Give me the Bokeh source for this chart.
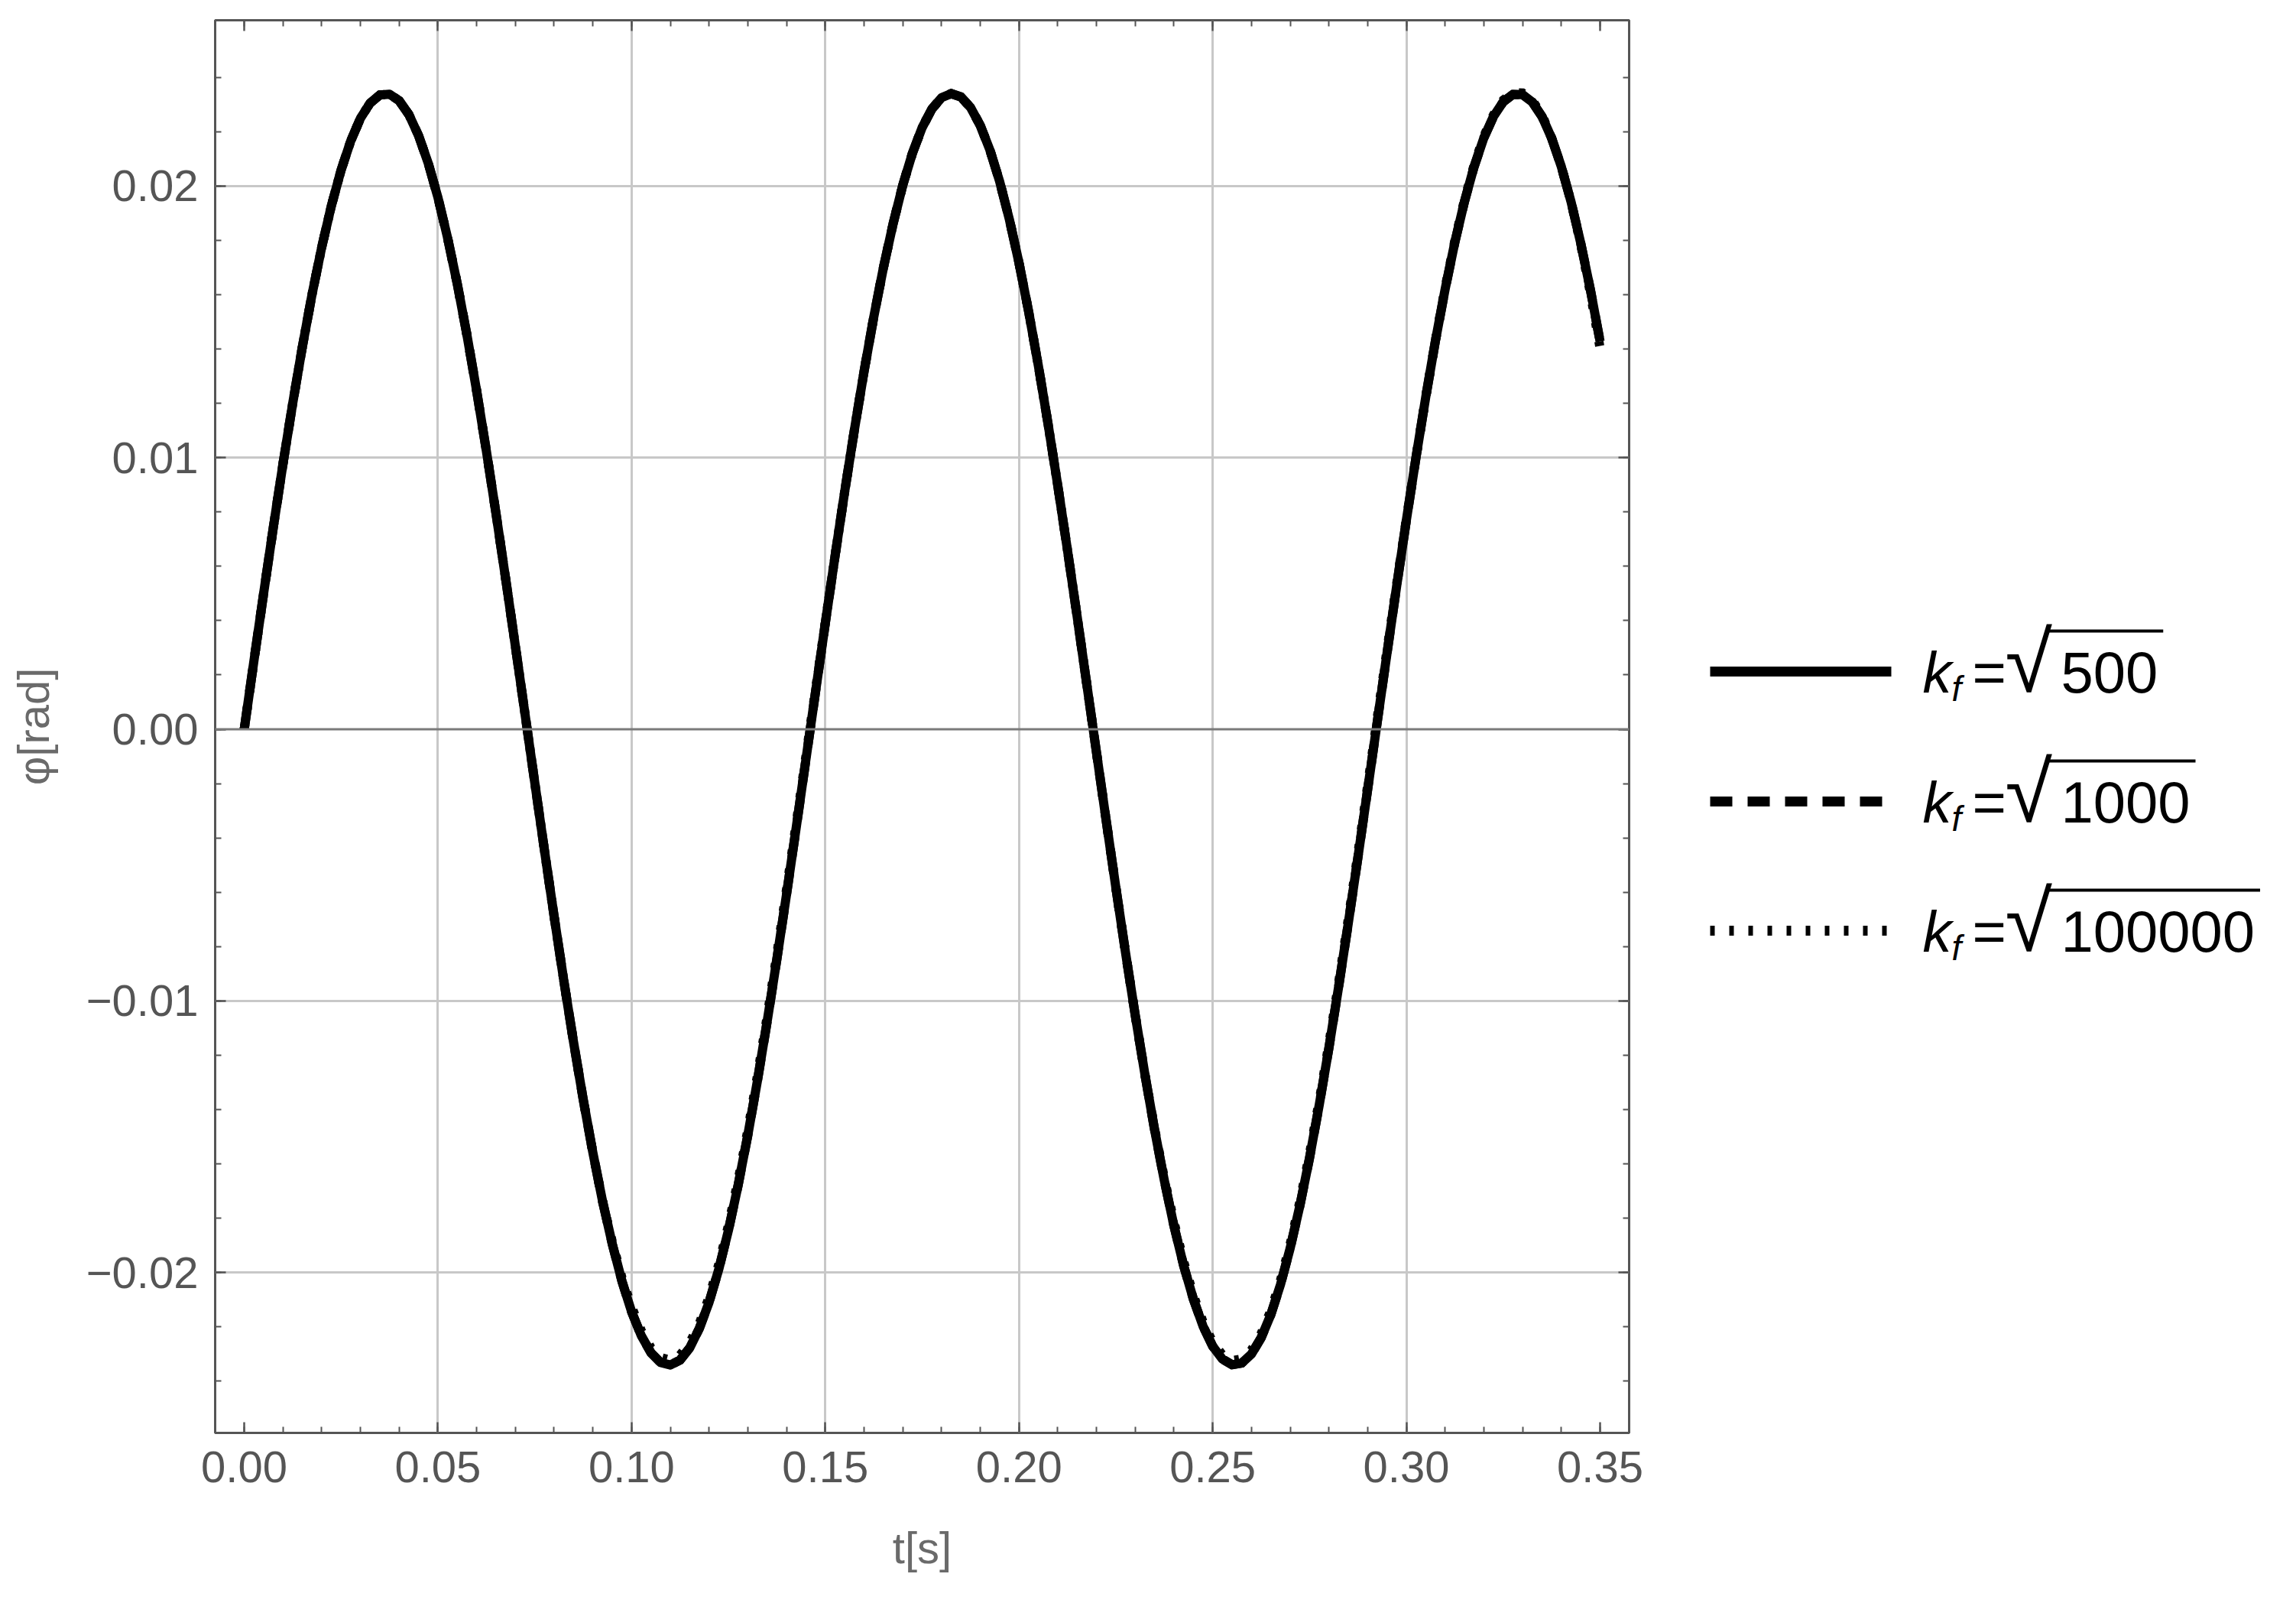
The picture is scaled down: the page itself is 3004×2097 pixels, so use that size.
from bokeh.plotting import figure
from bokeh.layouts import row
from bokeh.models import Range1d, FixedTicker, LinearAxis, Span
from bokeh.core.properties import value
from bokeh.embed import file_html
from bokeh.resources import INLINE

# ---------------- data ----------------
t = [0.0000, 0.0025, 0.0050, 0.0075, 0.0100, 0.0125, 0.0150, 0.0175, 0.0200, 0.0225,
     0.0250, 0.0275, 0.0300, 0.0325, 0.0350, 0.0375, 0.0400, 0.0425, 0.0450, 0.0475,
     0.0500, 0.0525, 0.0550, 0.0575, 0.0600, 0.0625, 0.0650, 0.0675, 0.0700, 0.0725,
     0.0750, 0.0775, 0.0800, 0.0825, 0.0850, 0.0875, 0.0900, 0.0925, 0.0950, 0.0975,
     0.1000, 0.1025, 0.1050, 0.1075, 0.1100, 0.1125, 0.1150, 0.1175, 0.1200, 0.1225,
     0.1250, 0.1275, 0.1300, 0.1325, 0.1350, 0.1375, 0.1400, 0.1425, 0.1450, 0.1475,
     0.1500, 0.1525, 0.1550, 0.1575, 0.1600, 0.1625, 0.1650, 0.1675, 0.1700, 0.1725,
     0.1750, 0.1775, 0.1800, 0.1825, 0.1850, 0.1875, 0.1900, 0.1925, 0.1950, 0.1975,
     0.2000, 0.2025, 0.2050, 0.2075, 0.2100, 0.2125, 0.2150, 0.2175, 0.2200, 0.2225,
     0.2250, 0.2275, 0.2300, 0.2325, 0.2350, 0.2375, 0.2400, 0.2425, 0.2450, 0.2475,
     0.2500, 0.2525, 0.2550, 0.2575, 0.2600, 0.2625, 0.2650, 0.2675, 0.2700, 0.2725,
     0.2750, 0.2775, 0.2800, 0.2825, 0.2850, 0.2875, 0.2900, 0.2925, 0.2950, 0.2975,
     0.3000, 0.3025, 0.3050, 0.3075, 0.3100, 0.3125, 0.3150, 0.3175, 0.3200, 0.3225,
     0.3250, 0.3275, 0.3300, 0.3325, 0.3350, 0.3375, 0.3400, 0.3425, 0.3450, 0.3475,
     0.3500]

phi_500 = [0.00000, 0.00251, 0.00499, 0.00742, 0.00976, 0.01198, 0.01407, 0.01600, 0.01774, 0.01927,
           0.02058, 0.02166, 0.02249, 0.02305, 0.02335, 0.02338, 0.02314, 0.02263, 0.02186, 0.02084,
           0.01958, 0.01809, 0.01640, 0.01451, 0.01246, 0.01026, 0.00794, 0.00553, 0.00306, 0.00055,
           -0.00196, -0.00445, -0.00689, -0.00925, -0.01150, -0.01362, -0.01558, -0.01737, -0.01894, -0.02031,
           -0.02144, -0.02232, -0.02295, -0.02331, -0.02340, -0.02322, -0.02277, -0.02205, -0.02109, -0.01988,
           -0.01844, -0.01678, -0.01494, -0.01292, -0.01075, -0.00846, -0.00607, -0.00361, -0.00111, 0.00140,
           0.00390, 0.00636, 0.00874, 0.01101, 0.01317, 0.01517, 0.01699, 0.01861, 0.02003, 0.02121,
           0.02215, 0.02283, 0.02325, 0.02340, 0.02328, 0.02289, 0.02223, 0.02132, 0.02017, 0.01878,
           0.01717, 0.01537, 0.01338, 0.01124, 0.00898, 0.00661, 0.00416, 0.00166, -0.00085, -0.00335,
           -0.00582, -0.00822, -0.01052, -0.01270, -0.01474, -0.01660, -0.01828, -0.01974, -0.02097, -0.02197,
           -0.02271, -0.02318, -0.02339, -0.02333, -0.02300, -0.02240, -0.02155, -0.02044, -0.01910, -0.01754,
           -0.01578, -0.01383, -0.01173, -0.00949, -0.00714, -0.00471, -0.00222, 0.00029, 0.00280, 0.00528,
           0.00770, 0.01002, 0.01223, 0.01430, 0.01620, 0.01792, 0.01943, 0.02072, 0.02177, 0.02256,
           0.02310, 0.02337, 0.02336, 0.02309, 0.02256, 0.02176, 0.02071, 0.01942, 0.01790, 0.01618,
           0.01428]

# the sqrt(1000) curve cannot be told apart from the sqrt(500) one in the picture
phi_1000 = list(phi_500)

phi_100000 = [0.00000, 0.00251, 0.00499, 0.00742, 0.00976, 0.01198, 0.01407, 0.01600, 0.01774, 0.01927,
              0.02058, 0.02166, 0.02249, 0.02305, 0.02335, 0.02338, 0.02314, 0.02263, 0.02186, 0.02084,
              0.01958, 0.01809, 0.01640, 0.01451, 0.01246, 0.01026, 0.00794, 0.00553, 0.00306, 0.00055,
              -0.00196, -0.00445, -0.00689, -0.00925, -0.01150, -0.01362, -0.01558, -0.01737, -0.01886, -0.02019,
              -0.02126, -0.02214, -0.02277, -0.02313, -0.02322, -0.02304, -0.02259, -0.02187, -0.02091, -0.01970,
              -0.01826, -0.01660, -0.01476, -0.01274, -0.01057, -0.00828, -0.00589, -0.00346, -0.00099, 0.00148,
              0.00394, 0.00636, 0.00874, 0.01101, 0.01317, 0.01517, 0.01699, 0.01861, 0.02003, 0.02121,
              0.02215, 0.02283, 0.02325, 0.02340, 0.02328, 0.02289, 0.02223, 0.02132, 0.02017, 0.01878,
              0.01717, 0.01537, 0.01338, 0.01124, 0.00898, 0.00661, 0.00416, 0.00166, -0.00085, -0.00335,
              -0.00582, -0.00822, -0.01052, -0.01270, -0.01469, -0.01652, -0.01813, -0.01959, -0.02082, -0.02182,
              -0.02256, -0.02303, -0.02324, -0.02318, -0.02285, -0.02225, -0.02140, -0.02029, -0.01895, -0.01739,
              -0.01563, -0.01368, -0.01158, -0.00934, -0.00699, -0.00456, -0.00207, 0.00044, 0.00292, 0.00536,
              0.00774, 0.01002, 0.01223, 0.01430, 0.01626, 0.01798, 0.01949, 0.02078, 0.02183, 0.02262,
              0.02316, 0.02343, 0.02342, 0.02315, 0.02262, 0.02176, 0.02071, 0.01942, 0.01785, 0.01606,
              0.01403]

series_values = ["500", "1000", "100000"]
series_dash = ["solid", "29 20", "6 19"]

x_major = [0.00, 0.05, 0.10, 0.15, 0.20, 0.25, 0.30, 0.35]
x_major_labels = ["0.00", "0.05", "0.10", "0.15", "0.20", "0.25", "0.30", "0.35"]
x_minor = [0.00, 0.01, 0.02, 0.03, 0.04, 0.05, 0.06, 0.07, 0.08, 0.09, 0.10, 0.11,
           0.12, 0.13, 0.14, 0.15, 0.16, 0.17, 0.18, 0.19, 0.20, 0.21, 0.22, 0.23,
           0.24, 0.25, 0.26, 0.27, 0.28, 0.29, 0.30, 0.31, 0.32, 0.33, 0.34, 0.35]
x_grid = [0.05, 0.10, 0.15, 0.20, 0.25, 0.30]

y_major = [-0.02, -0.01, 0.00, 0.01, 0.02]
y_major_labels = ["\u22120.02", "\u22120.01", "0.00", "0.01", "0.02"]
y_minor = [-0.024, -0.022, -0.020, -0.018, -0.016, -0.014, -0.012, -0.010, -0.008,
           -0.006, -0.004, -0.002, 0.000, 0.002, 0.004, 0.006, 0.008, 0.010, 0.012,
           0.014, 0.016, 0.018, 0.020, 0.022, 0.024]
y_grid = [-0.02, -0.01, 0.01, 0.02]

# ---------------- styling ----------------
FONT = "Liberation Sans"
FRAME = "#555555"
TICKLAB = "#555555"
AXLAB = "#6a6a6a"
GRID = "#c8c8c8"
H = 2080
BT, BB = 26, 206   # top / bottom borders shared by both panels

p = figure(width=2160, height=H,
           x_range=Range1d(-0.0075, 0.3575), y_range=Range1d(-0.0259, 0.0261),
           output_backend="svg", toolbar_location=None,
           min_border_left=281, min_border_right=29,
           min_border_top=BT, min_border_bottom=BB,
           x_axis_label="t[s]", y_axis_label="\u03c6[rad]")
p.background_fill_color = "white"
p.border_fill_color = "white"
p.outline_line_color = FRAME
p.outline_line_width = 3

p.add_layout(LinearAxis(), "above")
p.add_layout(LinearAxis(), "right")


def style_axis(ax, ticks, labels, minor, show):
    ax.ticker = FixedTicker(ticks=ticks, minor_ticks=minor)
    ax.axis_line_color = None
    ax.major_tick_in = 14
    ax.major_tick_out = 0
    ax.minor_tick_in = 8
    ax.minor_tick_out = 0
    ax.major_tick_line_color = FRAME
    ax.major_tick_line_width = 2.5
    ax.minor_tick_line_color = FRAME
    ax.minor_tick_line_width = 2
    if show:
        ax.major_label_overrides = {tk: lb for tk, lb in zip(ticks, labels)}
        ax.major_label_text_font = FONT
        ax.major_label_text_font_size = "58px"
        ax.major_label_text_color = TICKLAB
        ax.axis_label_text_font = FONT
        ax.axis_label_text_font_size = "58px"
        ax.axis_label_text_font_style = "normal"
        ax.axis_label_text_color = AXLAB
    else:
        ax.major_label_overrides = {tk: "" for tk in ticks}
        ax.major_label_standoff = 0


style_axis(p.below[0], x_major, x_major_labels, x_minor, True)
style_axis(p.above[0], x_major, x_major_labels, x_minor, False)
style_axis(p.left[0], y_major, y_major_labels, y_minor, True)
style_axis(p.right[0], y_major, y_major_labels, y_minor, False)
p.below[0].major_label_standoff = 24
p.below[0].axis_label_standoff = 50
p.left[0].major_label_standoff = 22
p.left[0].axis_label_standoff = 34

p.xgrid.ticker = FixedTicker(ticks=x_grid)
p.ygrid.ticker = FixedTicker(ticks=y_grid)
p.grid.grid_line_color = GRID
p.grid.grid_line_width = 3

p.add_layout(Span(location=0, dimension="width", line_color="#7a7a7a", line_width=3))

for vals, dash in zip([phi_500, phi_1000, phi_100000], series_dash):
    p.line(t, vals, line_color="black", line_width=12, line_dash=dash,
           line_join="round" if dash == "solid" else "miter")

# ---------------- legend panel (data units = panel pixels) ----------------
LW = 828
leg = figure(width=LW, height=H, x_range=Range1d(0, LW), y_range=Range1d(H - BB, BT),
             output_backend="svg", toolbar_location=None,
             min_border_left=0, min_border_right=0, min_border_top=BT, min_border_bottom=BB,
             x_axis_type=None, y_axis_type=None, outline_line_color=None)
leg.background_fill_color = "white"
leg.border_fill_color = "white"

row_y = [878, 1048, 1217]
FS = 76
for ry, val, dash in zip(row_y, series_values, series_dash):
    leg.line([77, 314], [ry, ry], line_color="black", line_width=13, line_dash=dash)
    base = ry + 1
    leg.text(x=[355], y=[base], text=["k"], text_font=value(FONT), text_font_size=value(f"{FS}px"),
             text_font_style="italic", text_baseline="alphabetic", text_align="left", text_color="black")
    leg.text(x=[393], y=[ry + 22], text=["f"], text_font=value(FONT), text_font_size=value("46px"),
             text_font_style="italic", text_baseline="alphabetic", text_align="left", text_color="black")
    leg.text(x=[420], y=[base], text=["="], text_font=value(FONT), text_font_size=value(f"{FS}px"),
             text_baseline="alphabetic", text_align="left", text_color="black")
    leg.text(x=[463], y=[ry - 12], text=["\u221a"], text_font=value(FONT), text_font_size=value("112px"),
             text_baseline="alphabetic", text_align="left", text_color="black")
    leg.text(x=[536], y=[base], text=[val], text_font=value(FONT), text_font_size=value(f"{FS}px"),
             text_baseline="alphabetic", text_align="left", text_color="black")
    x_end = 536 + len(val) * 0.556 * FS + 7
    leg.segment(x0=[519], y0=[ry - 53], x1=[x_end], y1=[ry - 53], line_color="black", line_width=4)

layout = row(p, leg)
open("out.html", "w").write(file_html(layout, INLINE))
